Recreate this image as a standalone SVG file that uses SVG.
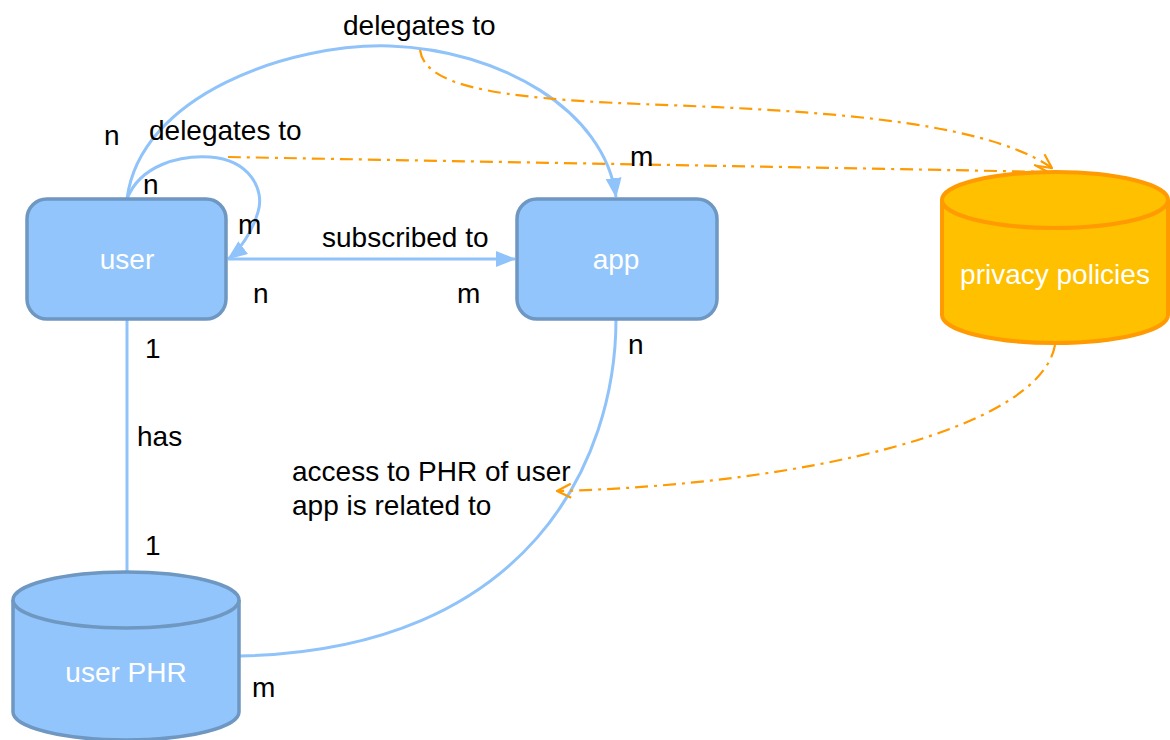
<svg xmlns="http://www.w3.org/2000/svg" width="1170" height="740" viewBox="0 0 1170 740">
  <style>
    .lbl { font-family: "Liberation Sans", Arial, sans-serif; font-size: 28px; fill: #000; }
    .nodetxt { font-family: "Liberation Sans", Arial, sans-serif; font-size: 28px; fill: #fff; text-anchor: middle; }
    .box { fill: #92c5fc; stroke: #6e97c2; stroke-width: 3.5; }
    .blue { fill: #92c5fc; stroke: #6e97c2; stroke-width: 3.5; }
    .orange { fill: #ffc000; stroke: #ff9a00; stroke-width: 4; }
    .rel { fill: none; stroke: #90c3fa; stroke-width: 3; }
    .dep { fill: none; stroke: #ff9a00; stroke-width: 2.2; stroke-dasharray: 13 6 3 6; }
  </style>
  <defs>
    <marker id="tri" viewBox="0 0 20 16" refX="19" refY="8" markerWidth="20" markerHeight="16" markerUnits="userSpaceOnUse" orient="auto">
      <path d="M0,0 L20,8 L0,16 Z" fill="#90c3fa"/>
    </marker>
    <marker id="open" viewBox="0 0 16 16" refX="15" refY="8" markerWidth="16" markerHeight="16" markerUnits="userSpaceOnUse" orient="auto">
      <path d="M1,1 L15,8 L1,15" fill="none" stroke="#ff9a00" stroke-width="2.2"/>
    </marker>
  </defs>

  <!-- connectors -->
  <g id="connectors">
    <!-- user delegates to app -->
    <path class="rel" d="M127,199 C140,95 290,43 390,46 C500,50 605,110 616,197" marker-end="url(#tri)"/>
    <!-- user delegates to user -->
    <path class="rel" d="M127,199 C140,165 180,155 210,157 C250,160 265,190 258,212 C252,232 240,250 228,259" marker-end="url(#tri)"/>
    <!-- user subscribed to app -->
    <path class="rel" d="M228,259 L515,259" marker-end="url(#tri)"/>
    <!-- user has user PHR -->
    <path class="rel" d="M127,319 L127,573"/>
    <!-- access to PHR of user -->
    <path class="rel" d="M616,319 C616,460 530,650 240,656"/>
    <!-- policy links -->
    <path class="dep" d="M420,50 C425,85 490,98 640,104 C800,110 980,118 1052,168" marker-end="url(#open)"/>
    <path class="dep" d="M228,157 C500,162 850,168 1048,172" marker-end="url(#open)"/>
    <path class="dep" d="M1055,345 C1040,430 800,485 557,491" marker-end="url(#open)"/>
  </g>

  <!-- nodes -->
  <g id="node-user">
    <rect class="box" x="27" y="199" width="199" height="120" rx="20" ry="20"/>
    <text class="nodetxt" x="127" y="269">user</text>
  </g>
  <g id="node-app">
    <rect class="box" x="517" y="199" width="200" height="120" rx="20" ry="20"/>
    <text class="nodetxt" x="616" y="269">app</text>
  </g>
  <g id="node-privacy-policies">
    <path class="orange" d="M942,200 L942,315 A113,28 0 0 0 1168,315 L1168,200 A113,28 0 0 0 942,200 Z"/>
    <path class="orange" d="M942,200 A113,28 0 0 0 1168,200"/>
    <text class="nodetxt" x="1055" y="284">privacy policies</text>
  </g>
  <g id="node-user-phr">
    <path class="blue" d="M13,600 L13,712 A113,28 0 0 0 239,712 L239,600 A113,28 0 0 0 13,600 Z"/>
    <path class="blue" d="M13,600 A113,28 0 0 0 239,600"/>
    <text class="nodetxt" x="126" y="682">user PHR</text>
  </g>

  <!-- relation labels and multiplicities -->
  <g id="labels">
    <text class="lbl" x="343" y="35">delegates to</text>
    <text class="lbl" x="104" y="145">n</text>
    <text class="lbl" x="149" y="140">delegates to</text>
    <text class="lbl" x="143" y="194">n</text>
    <text class="lbl" x="238" y="234">m</text>
    <text class="lbl" x="322" y="247">subscribed to</text>
    <text class="lbl" x="253" y="303">n</text>
    <text class="lbl" x="457" y="303">m</text>
    <text class="lbl" x="630" y="166">m</text>
    <text class="lbl" x="145" y="358">1</text>
    <text class="lbl" x="137" y="446">has</text>
    <text class="lbl" x="145" y="555">1</text>
    <text class="lbl" x="628" y="354">n</text>
    <text class="lbl" x="292" y="481">access to PHR of user</text>
    <text class="lbl" x="292" y="515">app is related to</text>
    <text class="lbl" x="252" y="697">m</text>
  </g>
</svg>
